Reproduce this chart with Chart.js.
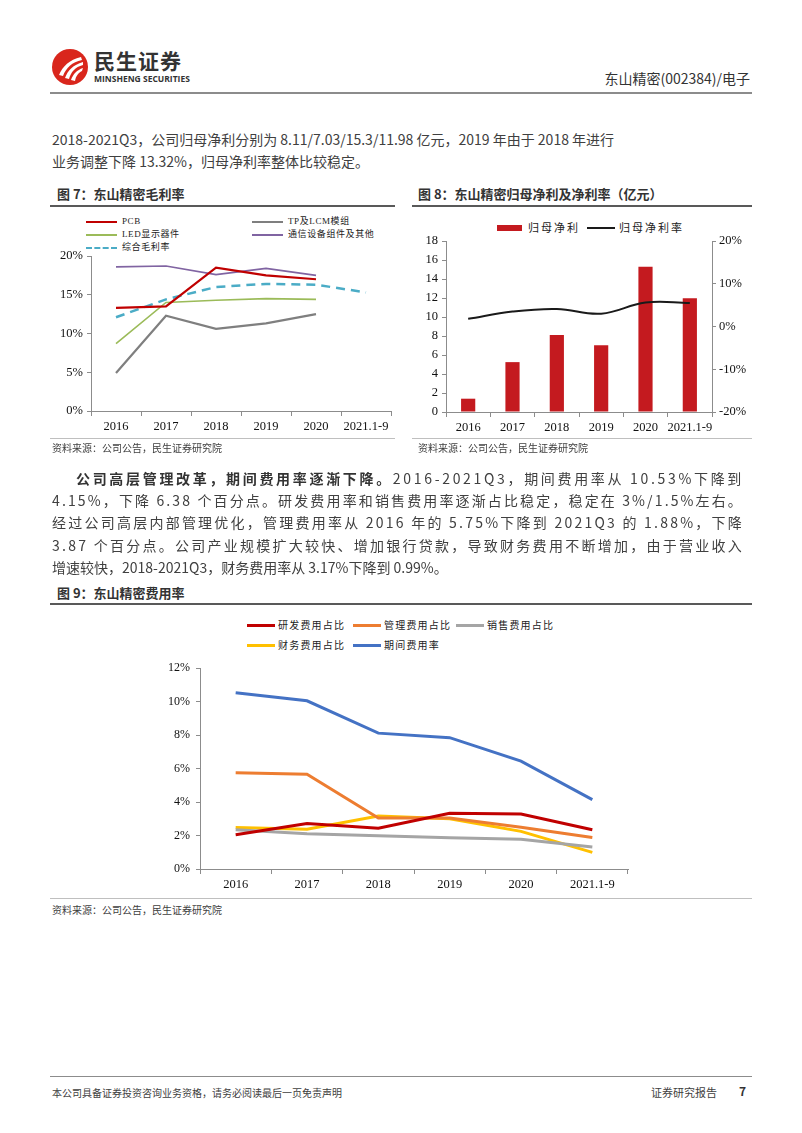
<!DOCTYPE html>
<html>
<head>
<meta charset="utf-8">
<script src="https://cdn.jsdelivr.net/npm/chart.js@4.4.1/dist/chart.umd.min.js"></script>
<style>
  html, body { margin: 0; padding: 0; background: #fff; }
  body { width: 802px; height: 1133px; position: relative; overflow: hidden;
         font-family: 'Noto Sans CJK SC', 'Noto Sans', sans-serif; color: #404040; }
  .abs { position: absolute; white-space: nowrap; }
  .rule { position: absolute; height: 0; }
  .para { position: absolute; font-size: 14px; line-height: 18px; color: #404040; white-space: nowrap; }
  .ftitle { position: absolute; font-size: 13px; font-weight: bold; color: #333; line-height: 16px; }
  .src { position: absolute; font-size: 10px; color: #404040; line-height: 12px; }
  .leg { position: absolute; font-family: 'Liberation Serif', 'Noto Sans CJK SC', serif; color: #222; white-space: nowrap; }
  .mark { position: absolute; display: block; }
  canvas { position: absolute; }
</style>
</head>
<body>

<!-- header -->
<svg class="abs" style="left:51px;top:48px" width="38" height="38" viewBox="0 0 38 38">
  <circle cx="19" cy="19" r="18" fill="#d9261c"/>
  <path d="M8 27 C12 18 18 12 30 9 L31 12 C21 14 15 20 12 28 Z" fill="#fff"/>
  <path d="M14 30 C17 22 22 17 32 14 L32 17 C24 19 20 24 18 31 Z" fill="#fff"/>
  <path d="M20 32 C22 26 26 22 32 20 L31 23 C27 25 25 28 24 33 Z" fill="#fff"/>
</svg>
<div class="abs" style="left:94px;top:48px;font-size:21px;font-weight:bold;color:#333;line-height:24px;letter-spacing:1px">民生证券</div>
<div class="abs" style="left:94px;top:74px;font-size:8.5px;font-weight:bold;color:#333;line-height:10px;font-family:'Open Sans',sans-serif">MINSHENG SECURITIES</div>
<div class="abs" style="right:52px;top:69px;font-size:14px;color:#333;line-height:18px">东山精密(002384)/电子</div>
<div class="rule" style="left:50px;top:92px;width:702px;border-top:2px solid #8c8c8c"></div>

<!-- paragraph 1 -->
<div class="para" style="left:52px;top:130px">2018-2021Q3，公司归母净利分别为 8.11/7.03/15.3/11.98 亿元，2019 年由于 2018 年进行</div>
<div class="para" style="left:52px;top:152px">业务调整下降 13.32%，归母净利率整体比较稳定。</div>

<!-- figure titles -->
<div class="ftitle" style="left:57px;top:186px">图 7：东山精密毛利率</div>
<div class="rule" style="left:50px;top:205px;width:345px;border-top:2px solid #595959"></div>
<div class="ftitle" style="left:418px;top:186px">图 8：东山精密归母净利及净利率（亿元）</div>
<div class="rule" style="left:412px;top:205px;width:340px;border-top:2px solid #595959"></div>

<div id="leg7"></div>
<div id="leg8"></div>
<canvas id="c7" width="345" height="230" style="left:50px;top:210px"></canvas>
<canvas id="c8" width="340" height="230" style="left:412px;top:210px"></canvas>

<div class="rule" style="left:50px;top:438px;width:345px;border-top:1px solid #bfbfbf"></div>
<div class="rule" style="left:412px;top:438px;width:340px;border-top:1px solid #bfbfbf"></div>
<div class="src" style="left:52px;top:442px">资料来源：公司公告，民生证券研究院</div>
<div class="src" style="left:418px;top:442px">资料来源：公司公告，民生证券研究院</div>

<!-- paragraph 2 (lines with data-w are stretched to that width) -->
<div class="para" data-w="668" style="left:76px;top:469px"><b style="color:#333">公司高层管理改革，期间费用率逐渐下降。</b>2016-2021Q3，期间费用率从 10.53%下降到</div>
<div class="para" data-w="692" style="left:52px;top:491px">4.15%，下降 6.38 个百分点。研发费用率和销售费用率逐渐占比稳定，稳定在 3%/1.5%左右。</div>
<div class="para" data-w="692" style="left:52px;top:513px">经过公司高层内部管理优化，管理费用率从 2016 年的 5.75%下降到 2021Q3 的 1.88%，下降</div>
<div class="para" data-w="692" style="left:52px;top:536px">3.87 个百分点。公司产业规模扩大较快、增加银行贷款，导致财务费用不断增加，由于营业收入</div>
<div class="para" style="left:52px;top:558px">增速较快，2018-2021Q3，财务费用率从 3.17%下降到 0.99%。</div>

<div class="ftitle" style="left:57px;top:585px">图 9：东山精密费用率</div>
<div class="rule" style="left:50px;top:603px;width:702px;border-top:2px solid #595959"></div>
<div id="leg9"></div>
<canvas id="c9" width="702" height="240" style="left:50px;top:655px"></canvas>
<div class="rule" style="left:50px;top:898px;width:702px;border-top:1px solid #bfbfbf"></div>
<div class="src" style="left:52px;top:904px">资料来源：公司公告，民生证券研究院</div>

<!-- footer -->
<div class="rule" style="left:50px;top:1076px;width:702px;border-top:1px solid #8c8c8c"></div>
<div class="src" style="left:52px;top:1087px;font-size:10px">本公司具备证券投资咨询业务资格，请务必阅读最后一页免责声明</div>
<div class="src" style="left:651px;top:1086px;font-size:11px">证券研究报告</div>
<div class="src" style="left:739px;top:1085px;font-size:12px;font-weight:bold;color:#333">7</div>

<script>
// ── Shared categories ─────────────────────────────────────────
const YEARS = ['2016', '2017', '2018', '2019', '2020', '2021.1-9'];

// ── 图7 gross margin (%) ──────────────────────────────────────
const GM_PCB     = [13.3, 13.5, 18.5, 17.5, 17.0, null];
const GM_TP_LCM  = [4.9, 12.3, 10.6, 11.3, 12.5, null];
const GM_LED     = [8.7, 14.0, 14.3, 14.5, 14.4, null];
const GM_TELECOM = [18.6, 18.7, 17.6, 18.4, 17.5, null];
const GM_TOTAL   = [12.1, 14.4, 16.0, 16.4, 16.3, 15.3];
const GM_TICKS   = [0, 5, 10, 15, 20];

// ── 图8 net profit (亿元) and net margin (%) ───────────────────
const NET_PROFIT = [1.4, 5.25, 8.11, 7.03, 15.3, 11.98];
const NET_MARGIN = [1.8, 3.5, 4.1, 3.0, 5.6, 5.5];

// ── 图9 expense ratios (%) ────────────────────────────────────
const EXP_RD     = [2.05, 2.72, 2.43, 3.33, 3.29, 2.35];
const EXP_ADMIN  = [5.75, 5.66, 3.05, 3.05, 2.5, 1.88];
const EXP_SALES  = [2.35, 2.1, 1.98, 1.87, 1.78, 1.32];
const EXP_FIN    = [2.48, 2.38, 3.17, 3.0, 2.25, 0.99];
const EXP_PERIOD = [10.53, 10.05, 8.12, 7.85, 6.45, 4.15];

// stretch justified paragraph lines evenly
document.querySelectorAll('.para[data-w]').forEach(el => {
  const target = +el.dataset.w;
  const n = el.textContent.length;
  const natural = el.getBoundingClientRect().width;
  el.style.letterSpacing = Math.max(0, (target - natural) / n) + 'px';
});

Chart.defaults.font.family = "'Liberation Serif', 'Times New Roman', serif";
Chart.defaults.font.size = 12;
Chart.defaults.color = '#111';
Chart.defaults.animation = false;

const AXIS_COLOR = '#8c8c8c';

function xAxis(height) {
  return {
    offset: true,
    grid: { offset: true, drawOnChartArea: false, drawTicks: true, tickLength: 5, color: AXIS_COLOR },
    border: { display: true, color: AXIS_COLOR },
    ticks: { padding: 3, font: { size: 12.5 }, maxRotation: 0, autoSkip: false },
    afterFit: s => { s.height = height; }
  };
}

function yAxis(width, opts) {
  return Object.assign({
    grid: { drawOnChartArea: false, drawTicks: true, tickLength: 4, color: AXIS_COLOR },
    border: { display: true, color: AXIS_COLOR },
    ticks: { padding: 4, font: { size: 12.5 } },
    afterFit: s => { s.width = width; }
  }, opts);
}

function lineDs(label, data, color, width, extra) {
  return Object.assign({
    type: 'line', label, data, borderColor: color, backgroundColor: color,
    borderWidth: width, pointRadius: 0, tension: 0, spanGaps: false
  }, extra || {});
}

// ── HTML legends built from the dataset list ─────────────────
function buildLegend(id, items, style) {
  const box = document.getElementById(id);
  box.innerHTML = items.map(it => {
    const mark = it.rect
      ? `<i class="mark" style="left:${it.x}px;top:${it.y - 3}px;width:${it.w}px;height:6px;background:${it.color}"></i>`
      : `<i class="mark" style="left:${it.x}px;top:${it.y - it.lw / 2}px;width:${it.w}px;height:0;border-top:${it.lw}px ${it.dash ? 'dashed' : 'solid'} ${it.color}"></i>`;
    const txt = `<div class="leg" style="left:${it.x + it.w + it.gap}px;top:${it.y - style.size * 0.65}px;font-size:${style.size}px;letter-spacing:${style.ls}px;line-height:${style.size * 1.3}px">${it.label}</div>`;
    return mark + txt;
  }).join('');
}

// ── 图7 ───────────────────────────────────────────────────────
const c7sets = [
  lineDs('PCB', GM_PCB, '#C00000', 2.2),
  lineDs('TP及LCM模组', GM_TP_LCM, '#7F7F7F', 2.2),
  lineDs('LED显示器件', GM_LED, '#9BBB59', 1.6),
  lineDs('通信设备组件及其他', GM_TELECOM, '#8064A2', 1.6),
  lineDs('综合毛利率', GM_TOTAL, '#4BACC6', 2.5, { borderDash: [9, 6] })
];
new Chart(document.getElementById('c7'), {
  type: 'line',
  data: { labels: YEARS, datasets: c7sets },
  options: {
    responsive: false,
    layout: { padding: { top: 46, right: 4, left: 0, bottom: 0 } },
    plugins: { legend: { display: false }, tooltip: { enabled: false } },
    scales: {
      x: xAxis(29),
      y: yAxis(41, {
        min: 0, max: 20,
        afterBuildTicks: s => { s.ticks = GM_TICKS.map(v => ({ value: v })); },
        ticks: { padding: 4, font: { size: 12.5 }, callback: v => v + '%' }
      })
    }
  }
});
const legPos7 = [[86, 222], [252, 222], [86, 235], [252, 235], [86, 248]];
buildLegend('leg7', c7sets.map((d, i) => ({
  label: d.label, color: d.borderColor, x: legPos7[i][0], y: legPos7[i][1],
  w: 31, gap: 5, lw: d.borderDash ? 2.5 : 2, dash: !!d.borderDash
})), { size: 9, ls: 0.6 });

// ── 图8 ───────────────────────────────────────────────────────
new Chart(document.getElementById('c8'), {
  data: {
    labels: YEARS,
    datasets: [
      lineDs('归母净利率', NET_MARGIN, '#1a1a1a', 2, { yAxisID: 'y1', tension: 0.4, order: 0 }),
      { type: 'bar', label: '归母净利', data: NET_PROFIT, backgroundColor: '#C41A1F',
        categoryPercentage: 1, barPercentage: 0.32, yAxisID: 'y', order: 1 }
    ]
  },
  options: {
    responsive: false,
    layout: { padding: { top: 31, right: 0, left: 0, bottom: 0 } },
    plugins: { legend: { display: false }, tooltip: { enabled: false } },
    scales: {
      x: xAxis(28),
      y: yAxis(34, { position: 'left', min: 0, max: 18, ticks: { stepSize: 2, padding: 4, font: { size: 12.5 } } }),
      y1: yAxis(40, { position: 'right', min: -20, max: 20,
        ticks: { stepSize: 10, padding: 3, font: { size: 12.5 }, callback: v => v + '%' } })
    }
  }
});
buildLegend('leg8', [
  { label: '归母净利', color: '#C41A1F', rect: true, x: 497, y: 228, w: 25, gap: 6 },
  { label: '归母净利率', color: '#1a1a1a', x: 587, y: 228, w: 28, gap: 4, lw: 2 }
], { size: 11, ls: 2 });

// ── 图9 ───────────────────────────────────────────────────────
const c9sets = [
  lineDs('研发费用占比', EXP_RD, '#C00000', 3),
  lineDs('管理费用占比', EXP_ADMIN, '#ED7D31', 3),
  lineDs('销售费用占比', EXP_SALES, '#A5A5A5', 3),
  lineDs('财务费用占比', EXP_FIN, '#FFC000', 3),
  lineDs('期间费用率', EXP_PERIOD, '#4472C4', 3)
];
new Chart(document.getElementById('c9'), {
  type: 'line',
  data: { labels: YEARS, datasets: c9sets },
  options: {
    responsive: false,
    layout: { padding: { top: 13, right: 124, left: 0, bottom: 0 } },
    plugins: { legend: { display: false }, tooltip: { enabled: false } },
    scales: {
      x: xAxis(26),
      y: yAxis(150, { min: 0, max: 12, ticks: { stepSize: 2, padding: 6, font: { size: 12 }, callback: v => v + '%' } })
    }
  }
});
const legPos9 = [[247, 625], [353, 625], [456, 625], [247, 645], [353, 645]];
buildLegend('leg9', c9sets.map((d, i) => ({
  label: d.label, color: d.borderColor, x: legPos9[i][0], y: legPos9[i][1],
  w: 28, gap: 3, lw: 3
})), { size: 10, ls: 1.2 });
</script>
</body>
</html>
